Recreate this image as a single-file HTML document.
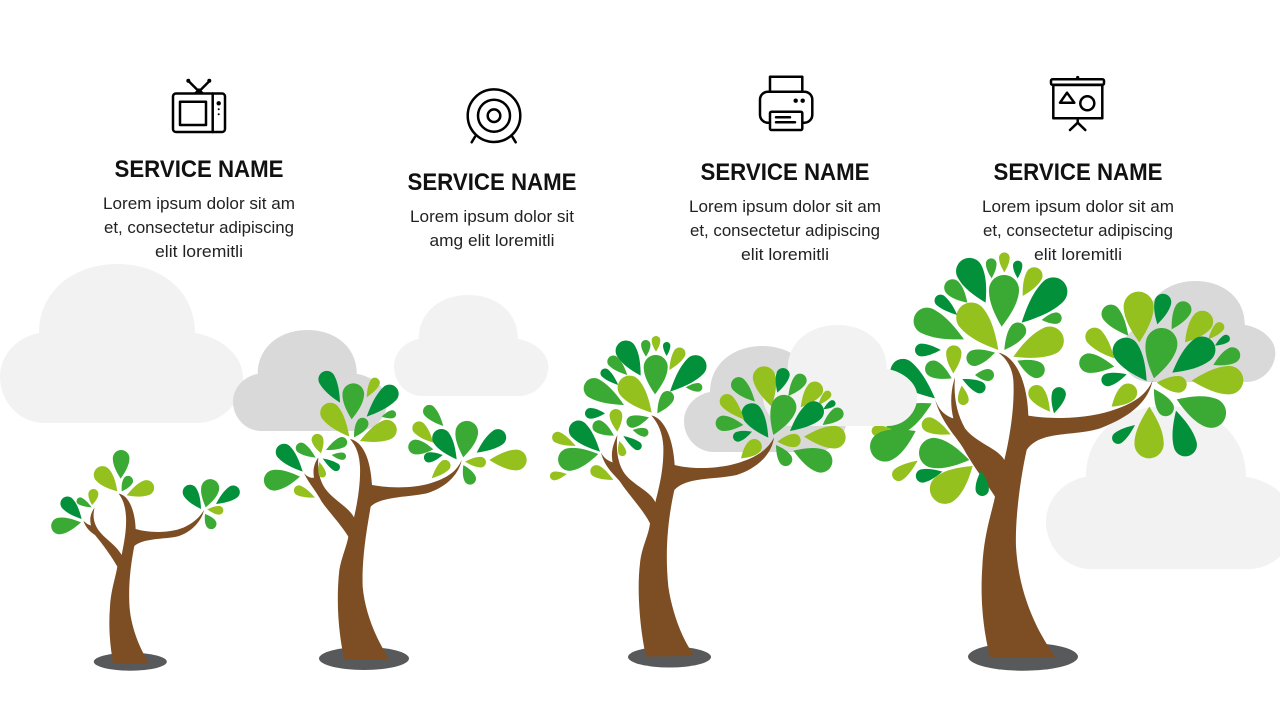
<!DOCTYPE html>
<html>
<head>
<meta charset="utf-8">
<title>Service Trees</title>
<style>
html,body{margin:0;padding:0;background:#fff;width:1280px;height:720px;overflow:hidden}
svg{display:block;position:absolute;left:0;top:0}
.h{font-family:"Liberation Sans",sans-serif;font-size:24px;font-weight:bold;fill:#111;text-anchor:middle}
.p{font-family:"Liberation Sans",sans-serif;font-size:17px;fill:#222;text-anchor:middle}
.i{fill:none;stroke:#000;stroke-width:2.5;stroke-linejoin:round;stroke-linecap:round}
</style>
</head>
<body>
<svg width="1280" height="720" viewBox="0 0 1280 720" xmlns="http://www.w3.org/2000/svg">
<defs>
<path id="cl" d="M45 159C18 159 0 136 0 113C0 91 17 73 39 69C39 26 75 0 117 0C160 0 195 26 195 69C220 73 243 91 243 113C243 138 222 159 197 159Z"/>
</defs>

<!-- clouds behind -->
<use href="#cl" fill="#f2f2f2" transform="translate(0 264)"/>
<use href="#cl" fill="#f2f2f2" transform="translate(394 295) scale(.635)"/>
<use href="#cl" fill="#d9d9d9" transform="translate(233 330) scale(.635)"/>
<use href="#cl" fill="#d9d9d9" transform="translate(684 346) scale(.667)"/>
<use href="#cl" fill="#d9d9d9" transform="translate(1121 281) scale(.635)"/>
<use href="#cl" fill="#f2f2f2" transform="translate(1046 406) scale(1.026)"/>

<!-- shadows -->
<ellipse cx="130.3" cy="661.7" rx="36.5" ry="9" fill="#58595b"/>
<ellipse cx="364" cy="658.5" rx="45" ry="11.5" fill="#58595b"/>
<ellipse cx="669.5" cy="657" rx="41.5" ry="10.5" fill="#58595b"/>
<ellipse cx="1023" cy="656.7" rx="55" ry="14" fill="#58595b"/>

<!-- tree 1 -->
<g transform="translate(0 420) scale(.33333)">
<path fill="#7d4e24" d="M340 732C330 680 325 620 330 560C333 510 345 480 352 440C335 410 310 375 285 345C270 335 258 325 250 302C258 310 265 315 273 316C268 295 272 280 284 262C278 285 280 305 292 325C310 355 345 370 365 405C372 370 380 330 378 290C376 260 370 240 356 221C385 225 405 270 407 327C450 340 520 340 560 318C585 305 600 290 612 270C605 305 570 340 530 350C490 358 430 355 403 378C395 420 385 480 388 550C390 610 415 680 445 725L440 732Z"/>
<g id="t1"></g>
</g>

<!-- tree 2 -->
<g transform="translate(250 360) scale(.33333)">
<path fill="#7d4e24" d="M283 898C265 820 258 720 268 630C275 590 290 560 295 530C270 490 240 460 215 425C200 395 180 375 162 340C172 350 182 355 192 353C188 330 192 310 205 292C203 320 205 355 225 385C250 420 295 440 312 472C322 430 332 370 330 320C328 285 320 260 300 237C340 245 362 300 366 375C420 385 490 385 540 370C590 355 620 335 635 300C625 350 580 385 530 400C470 412 390 410 362 440C352 500 335 590 338 680C345 760 380 840 417 896L412 900Z"/>
<g id="t2"></g>
</g>

<!-- tree 4 -->
<g transform="translate(850 240) scale(.33333)">
<path fill="#7d4e24" d="M420 1252C400 1170 390 1080 397 980C402 880 425 820 435 770C410 730 370 680 340 625C320 590 275 550 255 478C265 505 280 525 310 535C300 495 302 450 315 412C310 470 320 520 345 565C380 610 445 625 463 660C478 600 495 500 490 420C487 385 470 355 445 338C500 350 532 430 535 527C610 540 720 535 790 510C850 490 890 465 908 420C895 490 830 535 750 565C670 590 570 570 530 630C510 720 495 840 498 920C505 1040 545 1150 615 1250L610 1253Z"/>
<g id="t4"></g>
</g>

<!-- cloud in front of tree 4's left leaves -->
<use href="#cl" fill="#f2f2f2" transform="translate(763 325) scale(.635)"/>

<!-- tree 3 -->
<g transform="translate(540 330) scale(.33333)">
<path fill="#7d4e24" d="M318 980C300 900 290 780 300 700C305 650 325 620 330 580C310 540 270 500 240 455C225 435 195 415 183 368C192 385 205 393 218 397C212 370 218 345 232 315C228 355 232 395 250 425C275 465 330 480 346 517C355 480 372 420 370 350C368 310 355 280 334 256C375 265 400 330 404 405C460 420 540 415 590 400C640 385 680 365 702 322C695 380 640 420 590 435C520 450 440 440 403 480C390 540 372 640 385 770C395 840 425 930 465 978Z"/>
<g id="t3"></g>
</g>

<!-- icons -->
<g class="i">
<rect x="173" y="93.5" width="52" height="38.5" rx="3"/>
<path d="M212.7 93.5V132"/>
<rect x="180" y="101.7" width="26" height="23.3"/>
<path d="M198.5 91L188.5 81M199.5 91L209.5 81"/>
</g>
<path d="M193.5 93.5L199 88L204.5 93.5Z" fill="#000"/>
<circle cx="188.3" cy="80.7" r="2"/><circle cx="209.3" cy="80.7" r="2"/>
<circle cx="218.7" cy="103.3" r="2.2"/><circle cx="218.7" cy="109.3" r="1"/><circle cx="218.7" cy="114.3" r="1"/>

<g class="i">
<circle cx="494" cy="115.7" r="26.3"/>
<circle cx="494" cy="115.7" r="16"/>
<circle cx="494" cy="115.7" r="6.3"/>
<path d="M475 136.7L471.7 142.3M512.3 136.7L515.7 142.3"/>
</g>

<g class="i">
<rect x="770" y="76.7" width="32.3" height="15"/>
<rect x="760" y="91.7" width="52.3" height="31" rx="8"/>
<rect x="770" y="111.7" width="32.3" height="18.3" rx="1.5" fill="#fff"/>
<path d="M776 117.3H790M776 122.3H795"/>
</g>
<circle cx="795.7" cy="100.7" r="2.2"/><circle cx="802.7" cy="100.7" r="2.2"/>

<g class="i">
<rect x="1051" y="79.3" width="53" height="5.5" rx="1.5"/>
<rect x="1053.3" y="85" width="49" height="33.3"/>
<path d="M1060 102.7H1074.3L1067 92.7Z"/>
<circle cx="1087.3" cy="103.3" r="7"/>
<path d="M1077.7 118.3V122.7M1070 130L1077.7 122.7L1085.3 130"/>
</g>
<circle cx="1077.7" cy="77.5" r="1.6"/>

<!-- column 1 -->
<text class="h" x="199" y="177" textLength="169" lengthAdjust="spacingAndGlyphs">SERVICE NAME</text>
<text class="p" x="199" y="209" textLength="192" lengthAdjust="spacingAndGlyphs">Lorem ipsum dolor sit am</text>
<text class="p" x="199" y="233" textLength="190" lengthAdjust="spacingAndGlyphs">et, consectetur adipiscing</text>
<text class="p" x="199" y="257" textLength="88" lengthAdjust="spacingAndGlyphs">elit loremitli</text>
<!-- column 2 -->
<text class="h" x="492" y="190" textLength="169" lengthAdjust="spacingAndGlyphs">SERVICE NAME</text>
<text class="p" x="492" y="222" textLength="164" lengthAdjust="spacingAndGlyphs">Lorem ipsum dolor sit</text>
<text class="p" x="492" y="246" textLength="125" lengthAdjust="spacingAndGlyphs">amg elit loremitli</text>
<!-- column 3 -->
<text class="h" x="785" y="180" textLength="169" lengthAdjust="spacingAndGlyphs">SERVICE NAME</text>
<text class="p" x="785" y="212" textLength="192" lengthAdjust="spacingAndGlyphs">Lorem ipsum dolor sit am</text>
<text class="p" x="785" y="236" textLength="190" lengthAdjust="spacingAndGlyphs">et, consectetur adipiscing</text>
<text class="p" x="785" y="260" textLength="88" lengthAdjust="spacingAndGlyphs">elit loremitli</text>
<!-- column 4 -->
<text class="h" x="1078" y="180" textLength="169" lengthAdjust="spacingAndGlyphs">SERVICE NAME</text>
<text class="p" x="1078" y="212" textLength="192" lengthAdjust="spacingAndGlyphs">Lorem ipsum dolor sit am</text>
<text class="p" x="1078" y="236" textLength="190" lengthAdjust="spacingAndGlyphs">et, consectetur adipiscing</text>
<text class="p" x="1078" y="260" textLength="88" lengthAdjust="spacingAndGlyphs">elit loremitli</text>
</svg>

<script>
var D='#02913a',M='#3aaa35',L='#95c11f';
var T={
t1:[
[362,176,364,90,50,M],[352,214,290,145,52,L],[365,214,392,170,30,M],[380,226,461,195,46,L],
[245,297,188,235,42,D],[275,262,231,238,22,M],[276,255,282,207,30,L],[243,307,154,322,50,M],
[603,267,558,198,44,D],[617,262,637,178,54,M],[648,252,716,205,40,D],[622,268,670,272,26,L],[615,282,642,325,32,M]
],
t2:[
[270,128,218,36,50,D],[305,178,312,70,65,M],[350,112,382,55,30,L],[350,170,438,82,55,D],
[298,230,222,135,60,L],[395,170,438,160,24,M],[312,232,347,176,36,M],[330,243,438,198,60,L],
[228,270,290,240,32,M],[213,280,198,222,35,L],[197,293,140,255,32,M],[158,335,85,258,50,D],
[245,285,288,290,22,M],[218,295,268,328,24,D],[208,306,220,352,22,L],[150,350,42,365,62,M],[195,413,133,385,30,L],
[580,198,525,140,38,M],[550,248,493,190,40,L],[620,298,558,212,55,D],[640,292,655,183,68,M],
[680,278,764,218,50,D],[550,268,475,258,44,M],[578,285,522,295,30,D],[545,355,597,305,34,L],
[645,305,708,307,32,L],[640,315,668,372,36,M],[718,300,830,300,62,L]
],
t3:[
[302,137,242,36,62,D],[318,80,317,30,28,M],[348,65,348,18,26,L],[380,78,380,36,22,D],[388,120,428,55,36,L],
[262,135,207,82,36,M],[235,165,185,120,28,D],[345,193,348,75,72,M],[390,185,490,85,66,D],[437,172,487,172,26,M],
[252,225,135,160,62,M],[335,248,245,146,72,L],[352,250,393,186,40,M],[195,250,135,250,32,D],
[232,305,226,237,38,L],[327,262,260,280,36,M],[222,317,160,280,38,M],[180,365,95,280,58,D],
[278,300,325,310,26,M],[250,318,303,355,26,D],[238,333,250,378,24,L],[175,372,55,395,68,M],
[107,348,38,315,34,L],[220,450,153,415,36,L],[80,432,30,440,26,L],
[695,230,664,110,68,L],[712,188,735,115,40,D],[745,198,792,135,40,M],[782,232,840,160,50,L],
[835,225,870,185,24,L],[850,238,885,215,20,D],[848,285,907,240,38,M],[792,320,917,322,68,L],
[685,323,618,225,62,D],[700,315,745,197,75,M],[750,303,845,225,62,D],[645,215,580,148,46,M],
[612,268,546,198,44,L],[610,285,527,278,46,M],[636,305,580,325,30,D],[603,385,660,335,46,L],
[712,335,782,330,40,L],[708,345,748,405,40,M],[760,362,875,405,70,M]
],
t4:[
[407,188,340,58,80,D],[425,115,423,55,32,M],[463,97,463,37,32,L],[503,115,503,62,28,D],[518,168,565,85,50,L],
[352,188,290,125,50,M],[322,225,258,170,36,D],[455,260,465,105,90,M],[515,248,640,125,85,D],[575,240,635,232,34,M],
[342,298,195,225,80,M],[445,330,335,198,90,L],[463,330,518,252,50,M],[490,350,638,285,85,L],[272,330,195,330,38,D],
[310,400,312,316,46,L],[435,338,350,360,48,M],[305,415,228,375,50,M],[375,405,432,405,36,M],[337,417,405,450,36,D],
[335,437,342,495,32,L],[502,362,582,400,50,M],[600,515,545,440,50,L],[612,520,632,442,42,D],
[255,475,130,370,75,D],[245,490,110,560,80,M],[125,567,65,575,32,L],[302,583,217,545,45,L],
[197,573,65,640,90,M],[358,660,208,630,90,M],[203,662,130,715,40,L],[277,695,198,712,40,D],
[368,678,250,775,90,L],[393,692,398,768,40,D],
[868,307,865,155,90,L],[835,287,765,200,56,M],[922,253,945,162,50,D],[965,268,1012,187,50,M],
[1005,307,1078,220,65,L],[1075,298,1118,250,30,L],[1095,317,1138,290,24,D],[1090,375,1168,335,48,M],
[1025,422,1180,420,85,L],[890,423,805,300,80,D],[912,415,945,265,95,M],[967,398,1088,305,80,D],
[793,355,715,270,55,L],[793,380,688,365,58,M],[830,403,755,425,38,D],[785,500,855,440,55,L],
[920,428,1010,435,50,L],[912,447,960,525,50,M],[980,478,1125,535,90,M],[898,500,897,655,88,L],
[978,512,1015,648,70,D],[855,555,790,605,36,D]
]};
function f(n){return n.toFixed(1);}
for(var k in T){var s='';T[k].forEach(function(a){
var dx=a[2]-a[0],dy=a[3]-a[1],l=Math.sqrt(dx*dx+dy*dy),r=a[4]/2,c=Math.max(l-r,r*.6),ang=Math.atan2(dy,dx)*180/Math.PI;
var e=c+r,q=.5523*r;
var d='M0 0C'+f(c*.34)+' '+f(-r*.56)+' '+f(c*.68)+' '+f(-r)+' '+f(c)+' '+f(-r)+
'C'+f(c+q)+' '+f(-r)+' '+f(e)+' '+f(-q)+' '+f(e)+' 0'+
'C'+f(e)+' '+f(q)+' '+f(c+q)+' '+f(r)+' '+f(c)+' '+f(r)+
'C'+f(c*.68)+' '+f(r)+' '+f(c*.34)+' '+f(r*.56)+' 0 0Z';
s+='<path fill="'+a[5]+'" d="'+d+'" transform="translate('+a[0]+' '+a[1]+') rotate('+ang.toFixed(2)+')"/>';
});document.getElementById(k).innerHTML=s;}
</script>
</body>
</html>
